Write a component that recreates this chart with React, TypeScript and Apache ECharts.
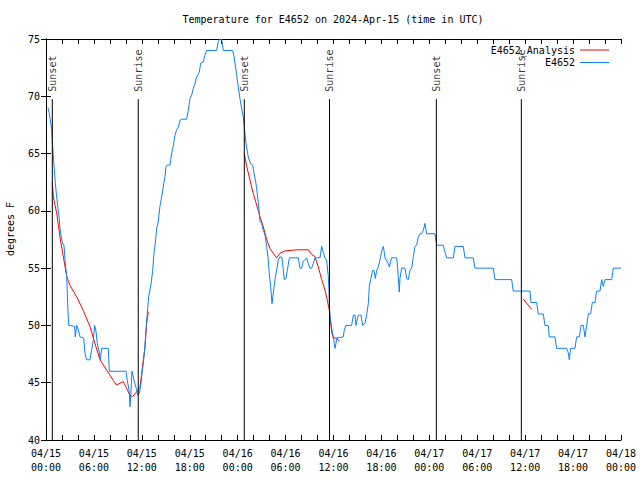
import React, { useEffect, useRef } from 'react';
import * as echarts from 'echarts';

// Observed temperature (hours since 2024-04-15 00:00 UTC, degrees F)
const obsHours = [
  0.25, 0.42, 0.71, 0.83, 1.04, 1.17, 1.34, 1.46, 1.63, 1.75, 1.92, 2.05, 2.25, 2.42, 2.59, 2.71, 2.84, 3.09, 3.59, 3.67,
  3.84, 4.05, 4.26, 4.72, 4.88, 5.09, 5.51, 5.72, 5.93, 6.09, 6.26, 6.43, 6.68, 6.8, 6.97, 7.8, 7.93, 10.02, 10.18, 10.43,
  10.52, 10.64, 10.77, 10.94, 11.14, 11.35, 11.48, 11.69, 11.89, 12.02, 12.19, 12.35, 12.52, 12.69, 12.85, 13.02, 13.19, 13.36, 13.52, 13.69,
  13.86, 14.07, 14.27, 14.48, 14.69, 14.9, 15.03, 15.23, 15.53, 15.73, 15.94, 16.15, 16.36, 16.57, 16.78, 16.99, 17.61, 17.82, 18.03, 18.24,
  18.45, 18.66, 18.86, 19.2, 19.37, 19.7, 19.91, 20.12, 21.37, 21.58, 21.79, 21.99, 22.2, 23.37, 23.54, 23.79, 24.08, 24.29, 24.5, 24.71,
  24.83, 25.04, 25.33, 25.63, 25.88, 26.04, 26.29, 26.59, 26.79, 27.0, 27.21, 27.42, 27.63, 27.84, 27.96, 28.13, 28.3, 28.46, 28.67, 28.88,
  29.09, 29.3, 29.55, 29.72, 29.84, 30.05, 30.22, 30.47, 31.6, 31.8, 32.01, 32.22, 32.64, 32.85, 33.06, 33.26, 33.47, 33.68, 34.31, 34.52,
  34.72, 34.93, 35.14, 35.35, 35.43, 35.48, 35.56, 35.69, 35.81, 35.98, 36.19, 36.31, 36.39, 37.23, 37.35, 37.56, 38.27, 38.48, 38.69, 38.81,
  39.11, 39.44, 39.65, 39.94, 40.15, 40.36, 40.48, 40.65, 40.9, 41.07, 41.24, 41.4, 41.61, 41.9, 42.07, 42.24, 42.45, 42.86, 42.99, 43.16,
  43.28, 43.91, 44.03, 44.24, 44.32, 44.53, 44.95, 45.16, 45.37, 45.58, 45.79, 46.0, 46.2, 46.41, 46.62, 46.83, 47.04, 47.25, 47.45, 47.66,
  48.71, 48.91, 49.75, 49.96, 50.17, 51.0, 51.21, 52.25, 52.46, 53.51, 53.71, 56.01, 56.22, 58.31, 58.51, 60.6, 60.73, 61.44, 61.64, 62.27,
  62.48, 62.9, 63.01, 63.73, 63.94, 65.19, 65.4, 65.53, 65.69, 66.24, 66.44, 66.78, 66.99, 67.28, 67.49, 67.7, 67.91, 68.2, 68.41, 68.74,
  68.95, 69.37, 69.58, 69.78, 69.99, 70.83, 71.04, 72.0,
];
const obsTemps = [
  69.0, 68.5, 67.1, 65.6, 63.6, 62.4, 61.2, 60.4, 59.5, 58.5, 57.7, 57.2, 57.0, 55.4, 54.3, 51.9, 50.0, 50.0, 49.9, 49.0,
  50.0, 49.6, 49.0, 48.9, 47.6, 47.0, 47.0, 47.9, 48.7, 50.0, 49.5, 48.4, 47.6, 47.0, 48.0, 48.0, 46.0, 46.0, 45.2, 44.2,
  42.9, 44.2, 46.0, 45.5, 44.9, 44.4, 43.9, 44.1, 44.9, 45.8, 46.7, 47.9, 49.6, 51.1, 52.5, 53.1, 53.8, 54.8, 56.3, 57.2,
  58.5, 59.1, 60.4, 61.2, 62.1, 63.0, 63.9, 64.0, 64.0, 65.0, 65.7, 66.6, 67.1, 67.3, 67.9, 68.0, 68.0, 68.8, 69.8, 70.1,
  70.7, 71.1, 71.7, 72.1, 72.9, 73.0, 73.6, 74.0, 74.0, 74.8, 75.0, 75.0, 74.0, 74.0, 73.5, 72.3, 70.8, 69.8, 68.9, 68.2,
  67.3, 65.9, 64.7, 64.1, 64.0, 63.3, 62.4, 60.7, 59.1, 58.9, 58.3, 57.9, 56.9, 55.7, 54.5, 53.4, 51.9, 52.8, 54.0, 54.8,
  55.7, 56.0, 55.9, 54.8, 54.0, 54.1, 54.8, 55.9, 55.9, 55.0, 55.0, 55.6, 55.9, 55.4, 55.0, 55.0, 55.4, 55.9, 55.9, 56.9,
  56.4, 55.9, 55.7, 54.3, 53.1, 51.6, 50.9, 50.2, 49.6, 49.0, 48.0, 48.4, 48.9, 49.0, 49.6, 50.0, 50.0, 50.9, 50.9, 50.0,
  50.9, 50.9, 50.0, 50.2, 50.9, 51.9, 53.4, 54.0, 54.8, 54.8, 54.1, 54.8, 55.1, 56.0, 56.6, 56.9, 55.9, 55.4, 55.1, 55.6,
  55.9, 55.9, 55.0, 52.9, 54.1, 55.0, 55.0, 54.1, 54.0, 54.8, 55.0, 56.0, 56.9, 57.0, 57.7, 58.0, 58.0, 58.3, 58.9, 58.0,
  58.0, 57.0, 57.0, 56.4, 55.9, 55.9, 56.9, 56.9, 55.9, 55.9, 55.0, 55.0, 54.0, 54.0, 53.0, 53.0, 52.0, 52.0, 51.0, 51.0,
  50.0, 50.0, 49.0, 49.0, 48.0, 48.0, 47.6, 47.0, 48.0, 48.0, 49.0, 49.0, 50.0, 50.0, 49.0, 50.0, 51.0, 51.0, 52.0, 52.0,
  53.0, 53.0, 54.0, 53.4, 54.0, 54.0, 55.0, 55.0,
];

// Analysis temperature (null = gap)
const anaHours = [
  0.79, 0.92, 1.34, 1.75, 2.17, 2.59, 3.0, 3.84, 4.67, 5.51, 6.14, 6.76, 7.6, 8.43, 8.85, 9.68, 10.1, 10.52, 10.85, 11.35,
  11.77, 11.98, 12.19, 12.4, 12.6, 12.81, 18.0,
  24.83, 25.13, 25.54, 25.96, 26.38, 26.79, 27.21, 27.63, 28.05, 28.46, 28.88, 29.3, 29.92, 31.39, 32.85, 33.26, 33.68, 34.1, 34.52,
  34.93, 35.23, 35.48, 35.64, 35.81, 35.98, 36.39, 36.73, 48.0,
  59.77, 60.81,
];
const anaTemps = [
  62.5, 61.2, 59.8, 57.7, 56.0, 54.3, 53.5, 52.5, 51.3, 49.9, 48.4, 47.0, 46.1, 45.2, 44.8, 45.1, 44.5, 43.9, 43.8, 44.2,
  44.6, 45.8, 47.0, 48.1, 50.2, 51.2, null,
  65.0, 63.9, 62.7, 61.5, 60.5, 59.5, 58.6, 57.5, 56.7, 56.3, 55.9, 56.3, 56.5, 56.6, 56.6, 56.2, 56.0, 55.1, 54.0,
  53.1, 52.2, 51.3, 50.2, 49.3, 48.9, 48.9, 48.6, null,
  52.3, 51.4,
];

// Sunrise / sunset times (hours since 04/15 00:00 UTC)
const sunHours = [0.79, 11.55, 24.83, 35.5, 48.88, 59.52];
const sunNames = ['Sunset', 'Sunrise', 'Sunset', 'Sunrise', 'Sunset', 'Sunrise'];

const xDays = ['04/15', '04/16', '04/17', '04/18'];
const seriesNames = ['E4652_Analysis', 'E4652'];
const seriesColors = ['#ff0000', '#0a80ff'];

const FONT = "'DejaVu Sans Mono', 'Liberation Mono', monospace";
const Y_MIN = 40;
const SUN_LINE_TOP = 69.75;
const SUN_LABEL_ANCHOR = 70.4;

export default function App() {
  const ref = useRef<HTMLDivElement>(null);
  useEffect(() => {
    if (!ref.current) return;
    const chart = echarts.init(ref.current, null, { renderer: 'svg' });
    const obsData = obsHours.map((h, i) => [h, obsTemps[i]]);
    const anaData = anaHours.map((h, i) => [h, anaTemps[i] === null ? '-' : anaTemps[i]]);
    const sunLineData: any[] = [];
    sunHours.forEach((h) => {
      sunLineData.push([h, Y_MIN], [h, SUN_LINE_TOP], [h, '-']);
    });
    const txt = { fontFamily: FONT, fontSize: 10, color: '#000' };
    const tick = { show: true, inside: true, length: 5, lineStyle: { color: '#000', width: 1 } };
    const line = { show: true, lineStyle: { color: '#000', width: 1 } };
    chart.setOption({
      animation: false,
      backgroundColor: '#fff',
      title: {
        text: 'Temperature for E4652 on 2024-Apr-15 (time in UTC)',
        left: 333,
        textAlign: 'center',
        top: 14,
        padding: 0,
        textStyle: { ...txt, fontWeight: 'normal' },
      },
      graphic: [
        {
          type: 'text',
          x: 10,
          y: 229,
          rotation: Math.PI / 2,
          style: { text: 'degrees F', font: `10px ${FONT}`, fill: '#000', align: 'center', verticalAlign: 'middle' },
        },
      ],
      legend: {
        data: seriesNames,
        orient: 'vertical',
        right: 31,
        top: 44,
        padding: 0,
        align: 'right',
        icon: 'rect',
        itemWidth: 29,
        itemHeight: 1,
        itemGap: 0.5,
        formatter: (n: string) => n.padStart(14, '\u00A0'),
        textStyle: { ...txt, lineHeight: 12 },
      },
      grid: { left: 46, right: 19, top: 39, bottom: 40, containLabel: false },
      xAxis: [
        {
          type: 'value',
          min: 0,
          max: 72,
          interval: 6,
          axisLine: line,
          axisTick: tick,
          minorTick: { show: true, splitNumber: 3, length: 5, lineStyle: { color: '#000', width: 1 } },
          splitLine: { show: false },
          axisLabel: {
            ...txt,
            margin: 6,
            lineHeight: 14,
            formatter: (v: number) => {
              const d = Math.floor(v / 24);
              const hh = v - d * 24;
              return `${xDays[d]}\n${String(hh).padStart(2, '0')}:00`;
            },
          },
        },
        {
          type: 'value',
          position: 'top',
          min: 0,
          max: 72,
          interval: 6,
          axisLine: line,
          axisTick: tick,
          minorTick: { show: true, splitNumber: 3, length: 5, lineStyle: { color: '#000', width: 1 } },
          splitLine: { show: false },
          axisLabel: { show: false },
        },
      ],
      yAxis: [
        {
          type: 'value',
          min: Y_MIN,
          max: 75,
          interval: 5,
          axisLine: line,
          axisTick: tick,
          splitLine: { show: false },
          axisLabel: { ...txt, margin: 6 },
        },
        {
          type: 'value',
          position: 'right',
          min: Y_MIN,
          max: 75,
          interval: 5,
          axisLine: line,
          axisTick: tick,
          splitLine: { show: false },
          axisLabel: { show: false },
        },
      ],
      series: [
        {
          name: seriesNames[0],
          type: 'line',
          data: anaData,
          showSymbol: false,
          symbol: 'none',
          connectNulls: false,
          color: seriesColors[0],
          lineStyle: { width: 1, color: seriesColors[0] },
          silent: true,
        },
        {
          name: seriesNames[1],
          type: 'line',
          data: obsData,
          showSymbol: false,
          symbol: 'none',
          color: seriesColors[1],
          lineStyle: { width: 1, color: seriesColors[1] },
          silent: true,
        },
        {
          name: 'sunLines',
          type: 'line',
          data: sunLineData,
          showSymbol: false,
          symbol: 'none',
          connectNulls: false,
          color: '#000',
          lineStyle: { width: 1, color: '#000' },
          silent: true,
          z: 4,
        },
        {
          name: 'sunLabels',
          type: 'scatter',
          data: sunHours.map((h, i) => ({ value: [h, SUN_LABEL_ANCHOR], name: sunNames[i] })),
          symbolSize: 0,
          silent: true,
          z: 5,
          label: {
            show: true,
            formatter: '{b}',
            position: 'inside',
            rotate: 90,
            align: 'left',
            verticalAlign: 'middle',
            ...txt,
          },
        },
      ],
    });
    return () => chart.dispose();
  }, []);
  return <div ref={ref} style={{ position: 'fixed', left: 0, top: 0, width: 640, height: 480 }} />;
}
